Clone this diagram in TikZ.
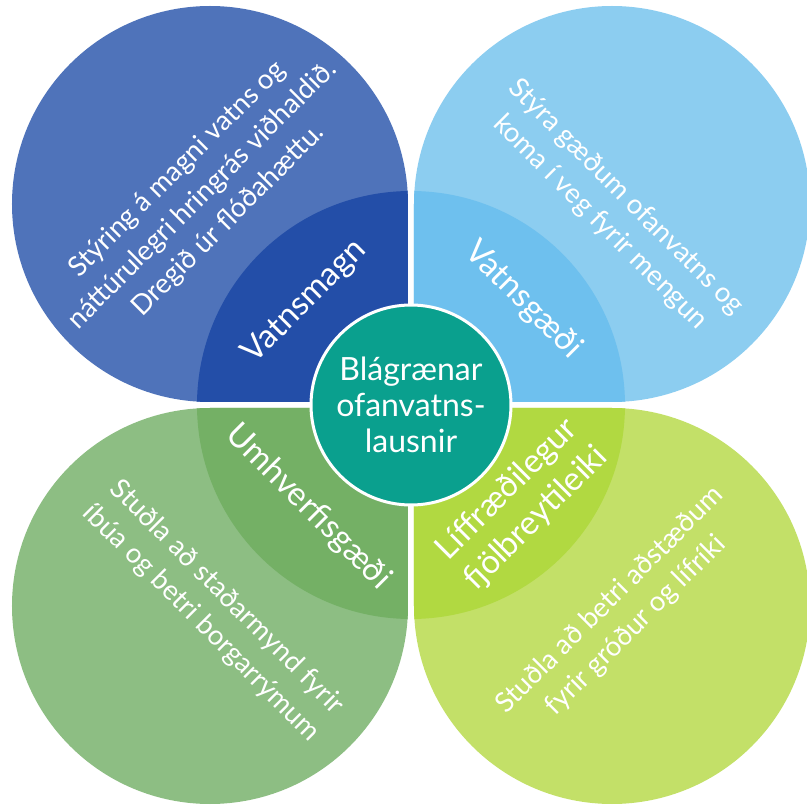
\documentclass[tikz,border=0pt]{standalone}
\usepackage{fontspec}
\setmainfont{Lato}
\usepackage{tikz}
\usetikzlibrary{positioning}
\definecolor{magnout}{HTML}{4F73BA}
\definecolor{magnin}{HTML}{234EA8}
\definecolor{gaediout}{HTML}{8CCDF0}
\definecolor{gaediin}{HTML}{6EC0EE}
\definecolor{umhvout}{HTML}{8DBE83}
\definecolor{umhvin}{HTML}{74B065}
\definecolor{lifout}{HTML}{C3E068}
\definecolor{lifin}{HTML}{B1D941}
\definecolor{hubfill}{HTML}{0AA08E}
\tikzset{petaltext/.style = {text=white, align=center,
                             font=\fontsize{27.5}{36}\selectfont},
         petaltitle/.style = {text=white, align=center,
                              font=\fontsize{33}{41}\selectfont},
         hubtext/.style = {circle, minimum size=200pt, fill=hubfill,
                           draw=white, line width=3pt, text=white, align=center,
                           font=\fontsize{32}{36}\selectfont}}

\begin{document}
\begin{tikzpicture}[x=1pt, y=1pt]
      \useasboundingbox (-411, -401) rectangle (396, 405);

      \fill [magnout] (-3, 3) -- (-201, 3) arc [start angle=-90, end angle=-360, radius=198] -- cycle;
      \fill [gaediout] (3, 3) -- (3, 201) arc [start angle=180, end angle=-90, radius=198] -- cycle;
      \fill [umhvout] (-3, -3) -- (-3, -201) arc [start angle=0, end angle=-270, radius=198] -- cycle;
      \fill [lifout] (3, -3) -- (201, -3) arc [start angle=90, end angle=-180, radius=198] -- cycle;

      \begin{scope}
        \clip (0, 0) circle (214);
        \fill [magnin] (-3, 3) -- (-201, 3) arc [start angle=-90, end angle=-360, radius=198] -- cycle;
        \fill [gaediin] (3, 3) -- (3, 201) arc [start angle=180, end angle=-90, radius=198] -- cycle;
        \fill [umhvin] (-3, -3) -- (-3, -201) arc [start angle=0, end angle=-270, radius=198] -- cycle;
        \fill [lifin] (3, -3) -- (201, -3) arc [start angle=90, end angle=-180, radius=198] -- cycle;
      \end{scope}

      \node [hubtext] (hub) at (0, 0) {Blágrænar\\ofanvatns-\\lausnir};

      \node [petaltitle, rotate=45] (magn) at (-106, 103) {Vatnsmagn};
      \node [petaltitle, rotate=-45] (gaedi) at (112, 105) {Vatnsgæði};
      \node [petaltitle, rotate=-45] (umhv) at (-103, -102) {Umhverfisgæði};
      \node [petaltitle, rotate=45] (lif) at (111, -99) {Líffræðilegur\\fjölbreytileiki};

      \node [petaltext, rotate=45] (magntext) at (-208, 210)
            {Stýring á magni vatns og\\náttúrulegri hringrás viðhaldið.\\Dregið úr flóðahættu.};
      \node [petaltext, rotate=-45] (gaeditext) at (202, 195)
            {Stýra gæðum ofanvatns og\\koma í veg fyrir mengun};
      \node [petaltext, rotate=-45] (umhvtext) at (-197, -205)
            {Stuðla að staðarmynd fyrir\\íbúa og betri borgarrýmum};
      \node [petaltext, rotate=45] (liftext) at (212, -208)
            {Stuðla að betri aðstæðum\\fyrir gróður og lífríki};
\end{tikzpicture}
\end{document}
